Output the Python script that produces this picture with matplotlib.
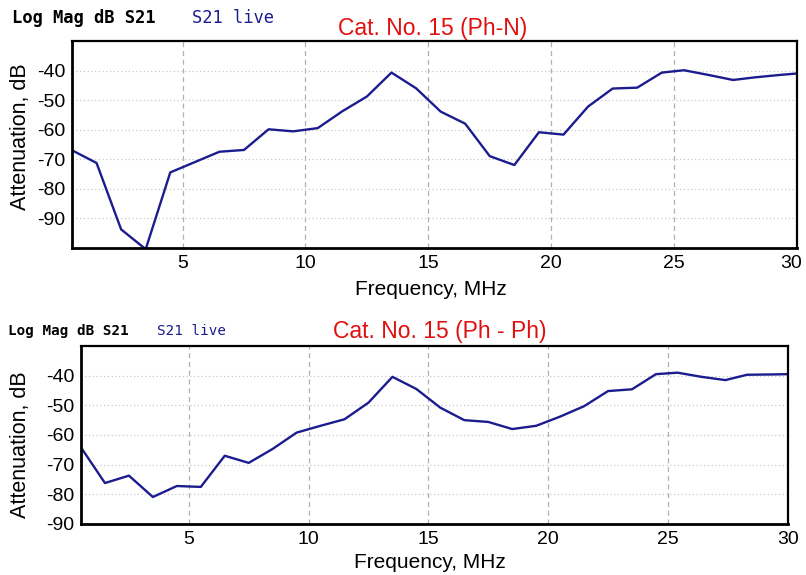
import numpy as np
import matplotlib.pyplot as plt
from matplotlib.transforms import ScaledTranslation

plt.rcParams["axes.unicode_minus"] = False

# --- data ---
freq_mhz = [0.5, 1.5, 2.5, 3.5, 4.5, 5.5, 6.5, 7.5, 8.5, 9.5, 10.5, 11.5, 12.5,
            13.5, 14.5, 15.5, 16.5, 17.5, 18.5, 19.5, 20.5, 21.5, 22.5, 23.5,
            24.5, 25.4, 26.4, 27.4, 28.3, 29.3, 30.0]

s21_ph_n = [-67.0, -71.3, -93.8, -100.5, -74.5, -71.0, -67.5, -66.9, -59.9, -60.6,
            -59.5, -53.8, -48.8, -40.7, -46.0, -53.9, -58.0, -69.0, -72.0, -60.9,
            -61.7, -52.2, -46.1, -45.8, -40.7, -39.9, -41.5, -43.2, -42.3, -41.5,
            -41.0]

s21_ph_ph = [-64.2, -76.2, -73.7, -80.9, -77.2, -77.5, -67.0, -69.4, -64.7, -59.2,
             -56.9, -54.7, -49.1, -40.4, -44.5, -50.8, -55.0, -55.6, -58.0, -56.9,
             -53.8, -50.3, -45.2, -44.6, -39.5, -39.0, -40.4, -41.5, -39.7, -39.6,
             -39.5]

x_ticks = [5, 10, 15, 20, 25, 30]
y_ticks = [-40, -50, -60, -70, -80, -90]

LINE_COLOR = "#1c1c8f"
FONT = "Liberation Sans"
MONO = "DejaVu Sans Mono"

fig = plt.figure(figsize=(8.06, 5.75), dpi=100)

panels = [
    dict(rect=[0.0893, 0.5692, 0.8995, 0.3595], data=s21_ph_n, ylim=(-100, -30),
         title="Cat. No. 15 (Ph-N)", tx=0.537, ty=0.951, hx=0.015, hy=0.969, hs=12.3,
         lx=0.238, xl_y=0.497, yl_y=0.762, shift30=-0.06),
    dict(rect=[0.1005, 0.0887, 0.8768, 0.3096], data=s21_ph_ph, ylim=(-90, -30),
         title="Cat. No. 15 (Ph - Ph)", tx=0.546, ty=0.423, hx=0.010, hy=0.424, hs=10.3,
         lx=0.195, xl_y=0.021, yl_y=0.226, shift30=0.0),
]

for p in panels:
    ax = fig.add_axes(p["rect"])
    ax.plot(freq_mhz, p["data"], color=LINE_COLOR, lw=1.7, clip_on=True)
    ax.set_xlim(0.5, 30)
    ax.set_ylim(*p["ylim"])
    ax.set_xticks(x_ticks)
    ax.set_yticks(y_ticks)
    ax.tick_params(length=0, labelsize=14, pad=5)
    for lab in ax.get_xticklabels() + ax.get_yticklabels():
        lab.set_fontfamily(FONT)
    # keep the "30" inside the figure edge
    last = ax.get_xticklabels()[-1]
    last.set_transform(last.get_transform()
                       + ScaledTranslation(p["shift30"], 0, fig.dpi_scale_trans))

    # grid: dashed verticals, dotted horizontals
    for xv in x_ticks[:-1]:
        ax.axvline(xv, color="#b0b0b0", lw=0.9, ls=(0, (4, 3)), zorder=0)
    for yv in y_ticks:
        ax.axhline(yv, color="#c8c8c8", lw=0.9, ls=(0, (1, 2)), zorder=0)

    for side in ["left", "bottom"]:
        ax.spines[side].set_linewidth(2.0)
    for side in ["top", "right"]:
        ax.spines[side].set_linewidth(1.6)

    fig.text(p["rect"][0] + p["rect"][2] / 2 - 0.005, p["xl_y"], "Frequency, MHz",
             ha="center", va="center", fontsize=15, family=FONT)
    fig.text(0.025, p["yl_y"], "Attenuation, dB", rotation=90,
             ha="center", va="center", fontsize=15.5, family=FONT)

    fig.text(p["tx"], p["ty"], p["title"], color="#e01010", ha="center", va="center",
             fontsize=16.5, family=FONT)
    fig.text(p["hx"], p["hy"], "Log Mag dB S21", ha="left", va="center",
             fontsize=p["hs"], family=MONO, weight="bold")
    fig.text(p["lx"], p["hy"], "S21 live", ha="left", va="center", color=LINE_COLOR,
             fontsize=p["hs"], family=MONO)

fig.savefig("out.png", dpi=100)
